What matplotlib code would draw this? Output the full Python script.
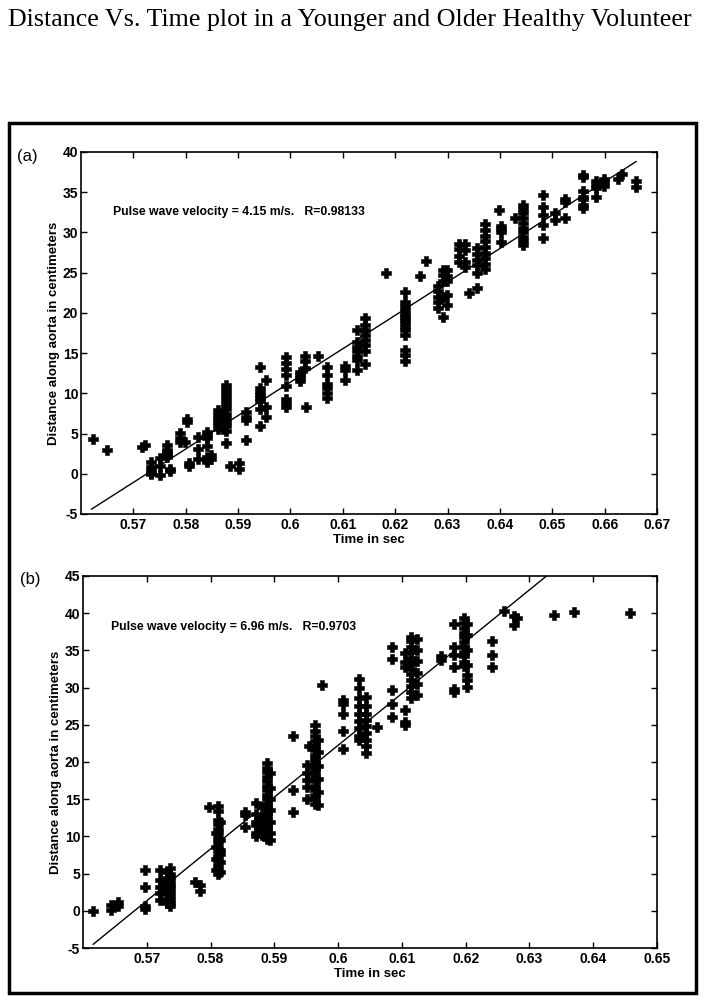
import matplotlib
import numpy as np

matplotlib.use("Agg")
import matplotlib.pyplot as plt
from matplotlib.patches import Rectangle


TITLE = "Distance Vs. Time plot in a Younger and Older Healthy Volunteer"
X_LABEL = "Time in sec"
Y_LABEL = "Distance along aorta in centimeters"

# panel (a): younger volunteer -- one entry per time column
A_TIMES = [
    0.5623, 0.5649, 0.5716, 0.5722, 0.5733, 0.5751, 0.5765, 0.5770, 0.5789, 0.5798,
    0.5802, 0.5806, 0.5824, 0.5840, 0.5849, 0.5862, 0.5872, 0.5877, 0.5885, 0.5902,
    0.5916, 0.5942, 0.5953, 0.5991, 0.6018, 0.6027, 0.6030, 0.6052, 0.6069, 0.6104,
    0.6127, 0.6142, 0.6182, 0.6218, 0.6247, 0.6258, 0.6282, 0.6292, 0.6299, 0.6322,
    0.6333, 0.6340, 0.6356, 0.6371, 0.6398, 0.6403, 0.6429, 0.6445, 0.6482, 0.6506,
    0.6524, 0.6559, 0.6583, 0.6598, 0.6626, 0.6634, 0.6660,
]
A_DIST = [
    [4.3], [3.0], [3.3], [3.6], [1.4, 0.8, 0.4, 0.1, 0.0], [1.9, 1.0, -0.1],
    [3.6, 3.0, 2.7, 2.4, 2.1], [0.3, 0.6], [5.1, 4.4, 4.0], [4.0],
    [6.8, 6.4], [1.3, 1.0], [4.6, 3.1, 1.8], [5.2, 4.8, 4.4, 3.4, 2.1, 1.7, 1.5], [2.3, 1.8],
    [7.9, 7.4, 6.9, 6.4, 6.0, 5.5], [7.5, 6.8, 6.2, 5.6],
    [11.0, 10.5, 10.0, 9.6, 9.1, 8.5, 8.0, 7.4, 6.9, 6.4, 5.9, 5.3, 3.8], [0.9], [1.3, 0.6],
    [7.7, 7.1, 6.7, 4.2], [13.3, 10.6, 10.2, 9.8, 9.4, 9.0, 8.1, 5.9], [11.7, 8.3, 7.1],
    [14.5, 13.8, 13.0, 12.3, 10.9, 9.3, 8.8, 8.3], [12.7, 12.3, 11.9, 11.5], [14.6, 14.0, 13.2],
    [8.3], [14.6], [13.3, 12.3, 11.2, 10.6, 10.0, 9.4], [13.4, 12.9, 11.7],
    [17.9, 16.4, 15.8, 15.2, 14.6, 14.1, 12.9], [19.3, 18.5, 17.9, 17.2, 16.6, 16.0, 15.2, 13.7],
    [25.0],
    [22.6, 21.4, 20.8, 20.4, 19.9, 19.5, 19.1, 18.7, 18.3, 17.9, 17.2, 15.4, 14.8, 14.0],
    [24.6], [26.5], [23.3, 22.7, 22.0, 21.3, 20.6], [25.3, 24.7, 24.0, 22.0, 19.5],
    [25.3, 24.6, 24.0, 22.2, 21.0], [28.6, 27.9, 27.1, 26.3],
    [28.6, 27.8, 26.3, 25.7], [22.5], [28.0, 27.3, 26.6, 25.9, 25.0, 23.1],
    [31.0, 30.3, 29.6, 28.9, 28.2, 27.5, 26.8, 26.1, 25.4], [32.8], [30.8, 30.4, 30.0, 28.8],
    [31.8], [33.4, 32.9, 32.4, 31.8, 31.2, 30.6, 30.0, 29.4, 28.9, 28.4],
    [34.7, 33.2, 32.2, 30.9, 29.3], [32.4, 31.5],
    [34.2, 33.8, 31.8], [37.1, 36.9, 35.1, 34.4, 34.2, 33.4, 33.0], [36.4, 35.9, 35.5, 34.4],
    [36.7, 36.3, 35.8], [36.7], [37.3], [36.4, 35.7],
]
A_FIT_T = [0.562, 0.666]
A_FIT_D = [-4.4, 38.8]
A_NOTE = "Pulse wave velocity = 4.15 m/s.   R=0.98133"

# panel (b): older volunteer
B_TIMES = [
    0.5616, 0.5644, 0.5655, 0.5697, 0.5721, 0.5731, 0.5736, 0.5776, 0.5783, 0.5798,
    0.5812, 0.5808, 0.5815, 0.5854, 0.5872, 0.5880, 0.5888, 0.5893, 0.5930, 0.5951,
    0.5954, 0.5964, 0.5968, 0.5974, 0.6008, 0.6032, 0.6043, 0.6061, 0.6085, 0.6105,
    0.6115, 0.6123, 0.6162, 0.6182, 0.6198, 0.6202, 0.6241, 0.6260, 0.6275, 0.6281,
    0.6338, 0.6370, 0.6458,
]
B_DIST = [
    [0.0], [0.8, 0.1], [1.2, 0.6], [5.5, 3.2, 0.6, 0.2], [5.5, 4.1, 3.2, 2.4, 1.5],
    [5.2, 4.4, 3.6, 2.9, 2.2, 1.6, 1.0],
    [5.8, 5.0, 4.6, 4.0, 3.5, 3.0, 2.5, 2.0, 1.5, 1.0, 0.7], [3.9], [3.5, 2.7], [14.0],
    [14.1, 13.4, 12.2, 11.6, 11.0, 10.4, 9.8, 9.2, 8.6, 8.0, 7.4, 6.8, 6.2, 5.6, 5.0],
    [10.4, 8.6, 7.0, 5.5], [12.0, 9.5, 8.2, 7.7, 6.5, 5.2], [13.3, 12.9, 11.3],
    [14.5, 13.0, 12.0, 11.5, 10.5, 10.0], [14.0, 12.5, 11.0, 10.2],
    [19.8, 19.2, 18.6, 18.0, 17.4, 16.8, 16.2, 15.6, 15.0, 14.4, 13.8, 13.2, 12.6, 12.0,
     11.4, 10.8, 10.2, 9.6],
    [18.5, 16.5, 15.0, 13.5, 12.0, 10.5, 9.5], [23.5, 16.2, 13.3], [19.6, 18.5, 17.6, 16.7, 15.0],
    [22.2],
    [25.0, 24.2, 23.5, 22.8, 22.2, 21.6, 21.0, 20.4, 19.8, 19.2, 18.6, 18.0, 17.4, 16.8,
     16.2, 15.6, 15.0, 14.4],
    [23.0, 21.3, 19.5, 17.7, 16.0, 14.2], [30.4], [28.3, 27.8, 26.4, 24.1, 21.8],
    [31.2, 30.0, 28.6, 27.5, 26.5, 25.5, 24.6, 23.5, 22.9],
    [28.8, 27.5, 26.5, 25.6, 24.8, 23.9, 23.0, 22.2, 21.2], [24.7],
    [35.5, 33.8, 29.7, 27.8, 26.1], [34.6, 33.5, 32.8, 27.0, 25.4, 25.0],
    [36.8, 36.2, 35.5, 34.8, 34.0, 33.2, 32.5, 31.8, 31.0, 30.2, 29.4, 28.6],
    [36.5, 35.0, 33.6, 32.0, 30.5, 29.0], [34.2, 33.7], [38.6, 35.5, 34.4, 32.7, 29.8, 29.4],
    [39.3, 38.7, 38.0, 37.4, 36.8, 36.1, 35.5, 34.8, 34.2, 33.5, 32.9],
    [38.5, 37.0, 35.0, 33.0, 31.7, 31.0, 30.1], [36.3, 34.4, 32.8], [40.3], [39.6, 38.4],
    [39.3], [39.8], [40.1], [40.0],
]
B_FIT_T = [0.5616, 0.640]
B_FIT_D = [-4.5, 50.1]
B_NOTE = "Pulse wave velocity = 6.96 m/s.   R=0.9703"

SANS = "Liberation Sans"
SERIF = "Liberation Serif"


def _flatten(times, dists):
    t = np.concatenate([[tt] * len(dd) for tt, dd in zip(times, dists)])
    d = np.concatenate([np.asarray(dd, dtype=float) for dd in dists])
    return t, d


def _panel(fig, rect, times, dists, fit_t, fit_d, note, note_xy, xlim, ylim, xticks, yticks, tag, tag_xy):
    ax = fig.add_axes(rect)
    t, d = _flatten(times, dists)
    ax.plot(t, d, linestyle="none", marker="P", markersize=6.5, color="black",
            markeredgewidth=0.4)
    ax.plot(fit_t, fit_d, color="black", linewidth=1.0)
    ax.set_xlim(*xlim)
    ax.set_ylim(*ylim)
    ax.set_xticks(xticks)
    ax.set_yticks(yticks)
    ax.set_xticklabels([f"{v:g}" for v in xticks])
    ax.set_yticklabels([f"{v:g}" for v in yticks])
    ax.tick_params(direction="in", length=4, width=1.0, top=True, right=True,
                   labelsize=10, pad=3)
    ax.tick_params(axis="y", pad=2)
    for label in ax.get_xticklabels() + ax.get_yticklabels():
        label.set_fontfamily(SANS)
        label.set_fontweight("bold")
    for spine in ax.spines.values():
        spine.set_linewidth(1.2)
    ax.set_xlabel(X_LABEL, fontsize=9.5, fontweight="bold", fontfamily=SANS, labelpad=1)
    ax.set_ylabel(Y_LABEL, fontsize=9.5, fontweight="bold", fontfamily=SANS, labelpad=2)
    ax.text(note_xy[0], note_xy[1], note, fontsize=8.8, fontweight="bold", fontfamily=SANS,
            ha="left", va="center")
    fig.text(tag_xy[0], tag_xy[1], tag, fontsize=12, fontfamily=SANS, ha="left", va="center")
    return ax


def main() -> None:
    fig = plt.figure(figsize=(7.07, 10.05), dpi=100)
    fig.text(0.495, 0.980, TITLE, fontsize=18.7, fontfamily=SERIF, ha="center", va="center")

    fig.add_artist(Rectangle((0.0127, 0.0119), 0.9717, 0.8657, transform=fig.transFigure,
                             fill=False, edgecolor="black", linewidth=2.5))

    _panel(fig, [0.1146, 0.4886, 0.8147, 0.3602], A_TIMES, A_DIST, A_FIT_T, A_FIT_D,
           A_NOTE, (0.5661, 32.5), (0.56, 0.67), (-5, 40),
           [0.57, 0.58, 0.59, 0.60, 0.61, 0.62, 0.63, 0.64, 0.65, 0.66, 0.67],
           [-5, 0, 5, 10, 15, 20, 25, 30, 35, 40], "(a)", (0.024, 0.844))
    _panel(fig, [0.1174, 0.0567, 0.8119, 0.3702], B_TIMES, B_DIST, B_FIT_T, B_FIT_D,
           B_NOTE, (0.5644, 38.1), (0.56, 0.65), (-5, 45),
           [0.57, 0.58, 0.59, 0.60, 0.61, 0.62, 0.63, 0.64, 0.65],
           [-5, 0, 5, 10, 15, 20, 25, 30, 35, 40, 45], "(b)", (0.028, 0.423))

    fig.savefig("out.png", dpi=100)
    plt.close(fig)


if __name__ == "__main__":
    main()
